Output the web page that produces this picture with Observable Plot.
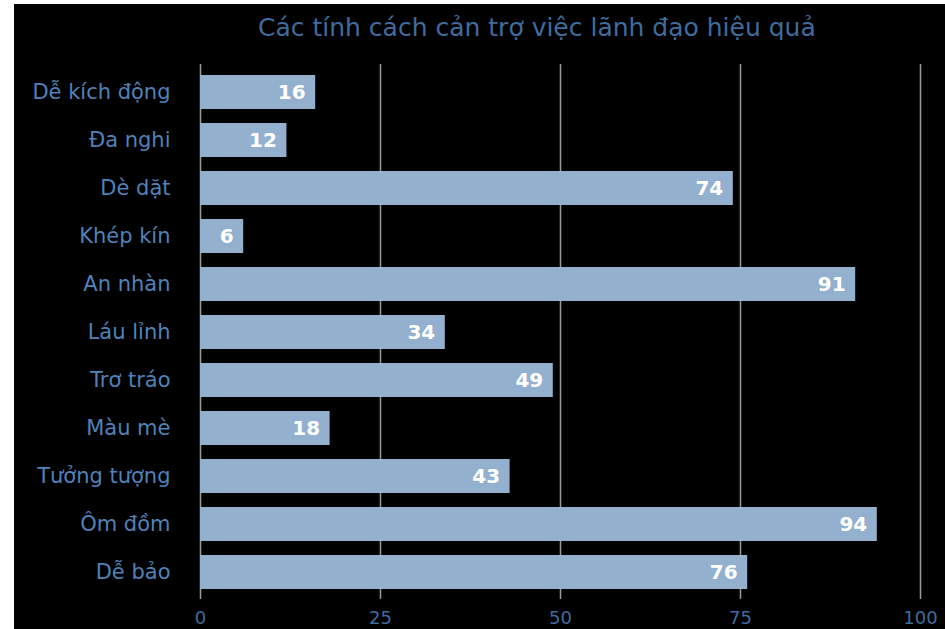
<!DOCTYPE html>
<html>
<head>
<meta charset="utf-8">
<script src="https://cdn.jsdelivr.net/npm/d3@7"></script>
<script src="https://cdn.jsdelivr.net/npm/@observablehq/plot@0.6"></script>
<style>
  html, body { margin: 0; padding: 0; background: #fff; }
  #frame { position: absolute; left: 14px; top: 4px; width: 931px; height: 625px; background: #000; overflow: hidden; }
  #title { position: absolute; left: 244px; top: 9px; white-space: nowrap;
           font-family: "DejaVu Sans", sans-serif; font-size: 25px; color: #3f6c9c; }
  #chart { position: absolute; left: 0; top: 36px; }
</style>
</head>
<body>
<div id="frame">
  <div id="title">Các tính cách cản trợ việc lãnh đạo hiệu quả</div>
  <div id="chart"></div>
</div>
<script>
const traits = ["Dễ kích động", "Đa nghi", "Dè dặt", "Khép kín", "An nhàn", "Láu lỉnh", "Trơ tráo", "Màu mè", "Tưởng tượng", "Ôm đồm", "Dễ bảo"];
const scores = [16, 12, 74, 6, 91, 34, 49, 18, 43, 94, 76];
const xTicks = [0, 25, 50, 75, 100];

const data = traits.map((t, i) => ({trait: t, score: scores[i]}));

const chart = Plot.plot({
  width: 931,
  height: 589,
  marginLeft: 186,
  marginRight: 25,
  marginTop: 24,
  marginBottom: 30,
  style: { background: "#000", fontFamily: "DejaVu Sans, sans-serif" },
  x: { domain: [0, 100], ticks: xTicks, label: null },
  y: { domain: traits, paddingInner: 0.3, paddingOuter: 0.2, label: null },
  marks: [
    Plot.ruleX(xTicks, { stroke: "#9a9a9a", strokeWidth: 1.5 }),
    Plot.barX(data, { y: "trait", x: "score", fill: "#93b0cf" }),
    Plot.text(data, { y: "trait", x: "score", text: d => String(d.score), textAnchor: "end", dx: -10,
      fill: "#ffffff", fontSize: 20, fontWeight: "bold" }),
    Plot.axisY({ tickSize: 0, tickPadding: 30, fontSize: 21, color: "#4f82b8", label: null }),
    Plot.axisX({ ticks: xTicks, tickSize: 0, tickPadding: 12, fontSize: 18, color: "#3f6c9c", label: null })
  ]
});
document.getElementById("chart").appendChild(chart);
</script>
</body>
</html>
